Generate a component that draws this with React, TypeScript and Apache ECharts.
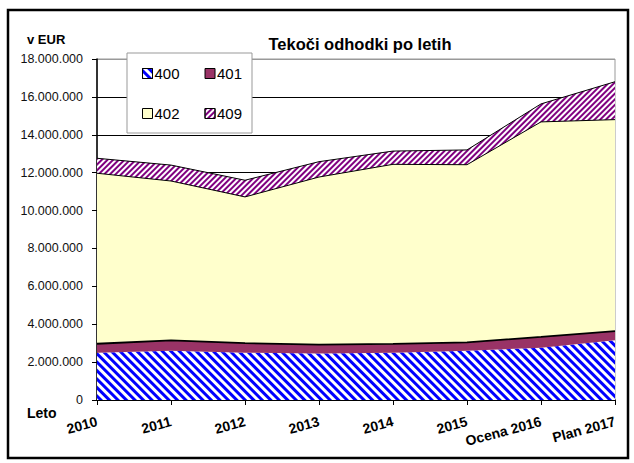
import React, { useEffect, useRef } from "react";
import * as echarts from "echarts";

const categories = ["2010", "2011", "2012", "2013", "2014", "2015", "Ocena 2016", "Plan 2017"];
const s400 = [2500000, 2600000, 2500000, 2450000, 2500000, 2600000, 2760000, 3150000];
const s401 = [470000, 550000, 500000, 470000, 460000, 440000, 570000, 490000];
const s402 = [9000000, 8410000, 7720000, 8850000, 9480000, 9380000, 11350000, 11160000];
const s409 = [790000, 840000, 880000, 810000, 700000, 780000, 950000, 2000000];
const seriesNames = ["400", "401", "402", "409"];
const yTicks = [0, 2000000, 4000000, 6000000, 8000000, 10000000, 12000000, 14000000, 16000000, 18000000];

const FONT = "'Liberation Sans', Arial, sans-serif";

function fmt(v: number): string {
  return String(Math.round(v)).replace(/\B(?=(\d{3})+(?!\d))/g, ".");
}

export default function App() {
  const ref = useRef<HTMLDivElement>(null);
  useEffect(() => {
    document.body.style.margin = "0";
    const chart = echarts.init(ref.current!, null, { renderer: "svg" });
    const splitColors = yTicks.map((_, i) => (i === yTicks.length - 1 ? "#999999" : "#000000"));
    const legendCommon = {
      left: 137,
      itemGap: 25,
      itemWidth: 10,
      itemHeight: 10,
      icon: "rect",
      z: 10,
      textStyle: { fontSize: 15, color: "#000", fontFamily: FONT, padding: [0, 0, 0, -3] },
      itemStyle: { borderColor: "#000", borderWidth: 1 },
    };
    chart.setOption({
      animation: false,
      backgroundColor: "#fff",
      textStyle: { fontFamily: FONT },
      title: {
        text: "Tekoči odhodki po letih",
        left: 355,
        textAlign: "center",
        top: 30,
        textStyle: { fontSize: 16.5, fontWeight: "bold", color: "#000", fontFamily: FONT },
      },
      grid: {
        left: 97,
        right: 19,
        top: 59,
        bottom: 63,
        show: true,
        borderColor: "#999999",
        borderWidth: 1,
        backgroundColor: "transparent",
      },
      xAxis: {
        type: "category",
        data: categories,
        boundaryGap: false,
        axisLine: { lineStyle: { color: "#000", width: 1.5 } },
        axisTick: { show: true, alignWithLabel: true, length: 5, lineStyle: { color: "#000" } },
        axisLabel: {
          interval: 0,
          rotate: 15,
          margin: 21,
          fontSize: 14,
          fontWeight: "bold",
          color: "#000",
          fontFamily: FONT,
        },
      },
      yAxis: {
        type: "value",
        min: yTicks[0],
        max: yTicks[yTicks.length - 1],
        interval: yTicks[1] - yTicks[0],
        axisLine: { show: true, lineStyle: { color: "#000", width: 1.5 } },
        axisTick: { show: true, length: 5, lineStyle: { color: "#000" } },
        splitLine: { show: true, lineStyle: { color: splitColors, width: 1 } },
        axisLabel: {
          formatter: (v: number) => fmt(v),
          fontSize: 12.5,
          color: "#111",
          margin: 14,
          fontFamily: FONT,
        },
      },
      legend: [
        { ...legendCommon, data: [seriesNames[0], seriesNames[1]], top: 61 },
        { ...legendCommon, data: [seriesNames[2], seriesNames[3]], top: 101 },
      ],
      graphic: [
        {
          type: "rect",
          z: 5,
          shape: { x: 127, y: 53, width: 125, height: 80 },
          style: { fill: "#fff", stroke: "#999999", lineWidth: 1 },
        },
        {
          type: "rect",
          z: 20,
          shape: { x: 8, y: 10, width: 620, height: 448 },
          style: { fill: "none", stroke: "#000", lineWidth: 2.5 },
        },
        {
          type: "text",
          z: 20,
          left: 27,
          top: 33,
          style: { text: "v EUR", font: `bold 13px ${FONT}`, fill: "#000" },
        },
        {
          type: "text",
          z: 20,
          left: 27,
          top: 406,
          style: { text: "Leto", font: `bold 14px ${FONT}`, fill: "#000" },
        },
      ],
      series: [
        {
          name: seriesNames[0],
          type: "line",
          stack: "total",
          data: s400,
          symbol: "none",
          lineStyle: { width: 0, color: "#0000ff" },
          itemStyle: {
            color: "#ffffff",
            decal: {
              symbol: "rect",
              symbolSize: 1,
              color: "#0000ff",
              backgroundColor: "#ffffff",
              dashArrayX: [1, 0],
              dashArrayY: [3, 2.7],
              rotation: Math.PI / 4,
            },
          },
          areaStyle: { color: "#ffffff", opacity: 1 },
        },
        {
          name: seriesNames[1],
          type: "line",
          stack: "total",
          data: s401,
          symbol: "none",
          lineStyle: { width: 1.8, color: "#000" },
          itemStyle: { color: "#993366" },
          areaStyle: { color: "#993366", opacity: 1 },
        },
        {
          name: seriesNames[2],
          type: "line",
          stack: "total",
          data: s402,
          symbol: "none",
          lineStyle: { width: 1, color: "#000" },
          itemStyle: { color: "#ffffcc" },
          areaStyle: { color: "#ffffcc", opacity: 1 },
        },
        {
          name: seriesNames[3],
          type: "line",
          stack: "total",
          data: s409,
          symbol: "none",
          lineStyle: { width: 1, color: "#000" },
          itemStyle: {
            color: "#ffffff",
            decal: {
              symbol: "rect",
              symbolSize: 1,
              color: "#800080",
              backgroundColor: "#ffffff",
              dashArrayX: [1, 0],
              dashArrayY: [1.6, 1.2],
              rotation: -Math.PI / 4,
            },
          },
          areaStyle: { color: "#ffffff", opacity: 1 },
        },
      ],
    });
    return () => chart.dispose();
  }, []);
  return <div ref={ref} style={{ width: 634, height: 463 }} />;
}
